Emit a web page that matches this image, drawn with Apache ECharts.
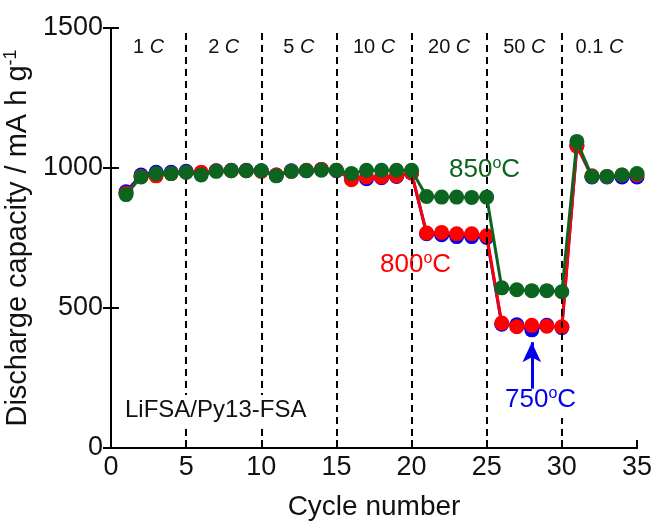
<!DOCTYPE html>
<html>
<head>
<meta charset="utf-8">
<script src="https://cdn.jsdelivr.net/npm/echarts@6/dist/echarts.min.js"></script>
<style>
  html, body { margin: 0; padding: 0; background: #fff; }
  #chart { width: 655px; height: 521px; }
</style>
</head>
<body>
<div id="chart"></div>
<script>
// cycle numbers 1..35
const cycles = [1, 2, 3, 4, 5, 6, 7, 8, 9, 10, 11, 12, 13, 14, 15, 16, 17, 18, 19, 20,
  21, 22, 23, 24, 25, 26, 27, 28, 29, 30, 31, 32, 33, 34, 35]

// discharge capacity (mA h g-1)
const cap750 = [915, 975, 985, 985, 988, 982, 990, 992, 992, 990, 975, 990, 990, 995, 990, 965, 962, 965, 970, 982,
  765, 762, 755, 755, 752, 442, 440, 422, 438, 430, 1080, 968, 968, 968, 968]
const cap800 = [910, 970, 972, 980, 985, 985, 990, 990, 990, 988, 975, 988, 992, 995, 992, 958, 968, 968, 972, 982,
  768, 770, 765, 765, 758, 446, 433, 438, 435, 433, 1078, 972, 970, 975, 975]
const cap850 = [905, 968, 980, 980, 985, 975, 988, 990, 990, 990, 972, 988, 990, 992, 992, 980, 992, 992, 992, 992,
  898, 896, 896, 895, 896, 572, 565, 562, 562, 558, 1095, 970, 970, 975, 980]

// C-rate segments
const rateLabels = ['1', '2', '5', '10', '20', '50', '0.1']
const rateBounds = [0, 5, 10, 15, 20, 25, 30, 35]

const pair = arr => arr.map((v, i) => [cycles[i], v])

const font = 'Liberation Sans, Arial, sans-serif'
const chart = echarts.init(document.getElementById('chart'))

const areas = rateLabels.map((r, i) => [
  { name: r, xAxis: rateBounds[i] },
  { xAxis: rateBounds[i + 1] }
])

const dividers = rateBounds.slice(1, -1).map(b => ({ xAxis: b }))

const lineSeries = (name, color, data, extra) => Object.assign({
  name: name,
  type: 'line',
  data: pair(data),
  symbol: 'circle',
  symbolSize: 15,
  lineStyle: { color: color, width: 3 },
  itemStyle: { color: color },
  animation: false
}, extra || {})

const supText = (nums, color) => ({
  text: '{a|' + nums + '}{s|o}{a|C}',
  rich: {
    a: { fontSize: 26, fill: color, fontFamily: font },
    s: { fontSize: 16, fill: color, fontFamily: font, verticalAlign: 'top', padding: [0, 0, 11, 0] }
  }
})

chart.setOption({
  animation: false,
  textStyle: { fontFamily: font },
  grid: { left: 111, right: 18, top: 28, bottom: 73, outerBoundsMode: 'none', containLabel: false },
  xAxis: [{
    type: 'value',
    min: 0,
    max: 35,
    interval: 5,
    name: 'Cycle number',
    nameLocation: 'middle',
    nameGap: 45,
    nameTextStyle: { fontSize: 28, color: '#111', fontFamily: font },
    axisLine: { lineStyle: { color: '#000', width: 2 } },
    axisTick: { inside: true, length: 8, lineStyle: { color: '#000', width: 2 } },
    axisLabel: { fontSize: 27, color: '#111', margin: 6, fontFamily: font, formatter: v => String(v) },
    splitLine: { show: false }
  }, {
    type: 'value',
    position: 'top',
    min: 0,
    max: 35,
    axisLine: { show: true, lineStyle: { color: '#000', width: 2 } },
    axisTick: { show: false },
    axisLabel: { show: false },
    splitLine: { show: false }
  }],
  yAxis: [{
    type: 'value',
    min: 0,
    max: 1500,
    interval: 500,
    name: '{t|Discharge capacity / mA h g}{s|-1}',
    nameLocation: 'middle',
    nameGap: 60,
    nameRotate: 90,
    nameTextStyle: {
      rich: {
        t: { fontSize: 29, color: '#111', fontFamily: font },
        s: { fontSize: 18, color: '#111', fontFamily: font, verticalAlign: 'top', padding: [0, 0, 13, 0] }
      }
    },
    axisLine: { show: true, lineStyle: { color: '#000', width: 2 } },
    axisTick: { inside: true, length: 8, lineStyle: { color: '#000', width: 2 } },
    axisLabel: { fontSize: 27, color: '#111', margin: 8, fontFamily: font, formatter: v => String(v) },
    splitLine: { show: false }
  }, {
    type: 'value',
    position: 'right',
    min: 0,
    max: 1500,
    interval: 500,
    axisLine: { show: true, lineStyle: { color: '#000', width: 2 } },
    axisTick: { inside: true, length: 8, lineStyle: { color: '#000', width: 2 } },
    axisLabel: { show: false },
    splitLine: { show: false }
  }],
  series: [
    lineSeries('750oC', '#0000ee', cap750, {
      z: 3,
      markLine: {
        silent: true,
        symbol: ['none', 'arrow'],
        symbolSize: [14, 20],
        label: { show: false },
        lineStyle: { color: '#0000ee', width: 3, type: 'solid' },
        data: [[{ coord: [28, 212] }, { coord: [28, 378] }]]
      }
    }),
    lineSeries('800oC', '#ff0000', cap800, {
      z: 4,
      markLine: {
        silent: true,
        symbol: 'none',
        label: { show: false },
        lineStyle: { color: '#000', width: 2, type: [7, 5] },
        data: dividers
      },
      markArea: {
        silent: true,
        itemStyle: { color: 'transparent' },
        label: {
          show: true,
          position: 'insideTop',
          distance: 9,
          formatter: p => '{n|' + p.name + ' }{c|C}',
          rich: {
            n: { fontSize: 20, color: '#111', fontFamily: font },
            c: { fontSize: 20, color: '#111', fontFamily: font, fontStyle: 'italic' }
          }
        },
        data: areas
      }
    }),
    lineSeries('850oC', '#0b651f', cap850, { z: 5 })
  ],
  graphic: [
    // white patch where the 30-cycle divider passes behind the 750oC label
    { type: 'rect', left: 555, top: 380, z: 99, shape: { width: 12, height: 38 }, style: { fill: '#fff' } },
    { type: 'text', left: 449, top: 156, z: 100, style: supText('850', '#0b651f') },
    { type: 'text', left: 380, top: 251, z: 100, style: supText('800', '#ff0000') },
    { type: 'text', left: 505, top: 386, z: 100, style: supText('750', '#0000ee') },
    {
      type: 'text', left: 122, top: 395, z: 100,
      style: {
        text: 'LiFSA/Py13-FSA', fontSize: 24, fill: '#111', fontFamily: font,
        backgroundColor: '#fff', padding: [3, 3, 3, 3]
      }
    }
  ]
})
</script>
</body>
</html>
